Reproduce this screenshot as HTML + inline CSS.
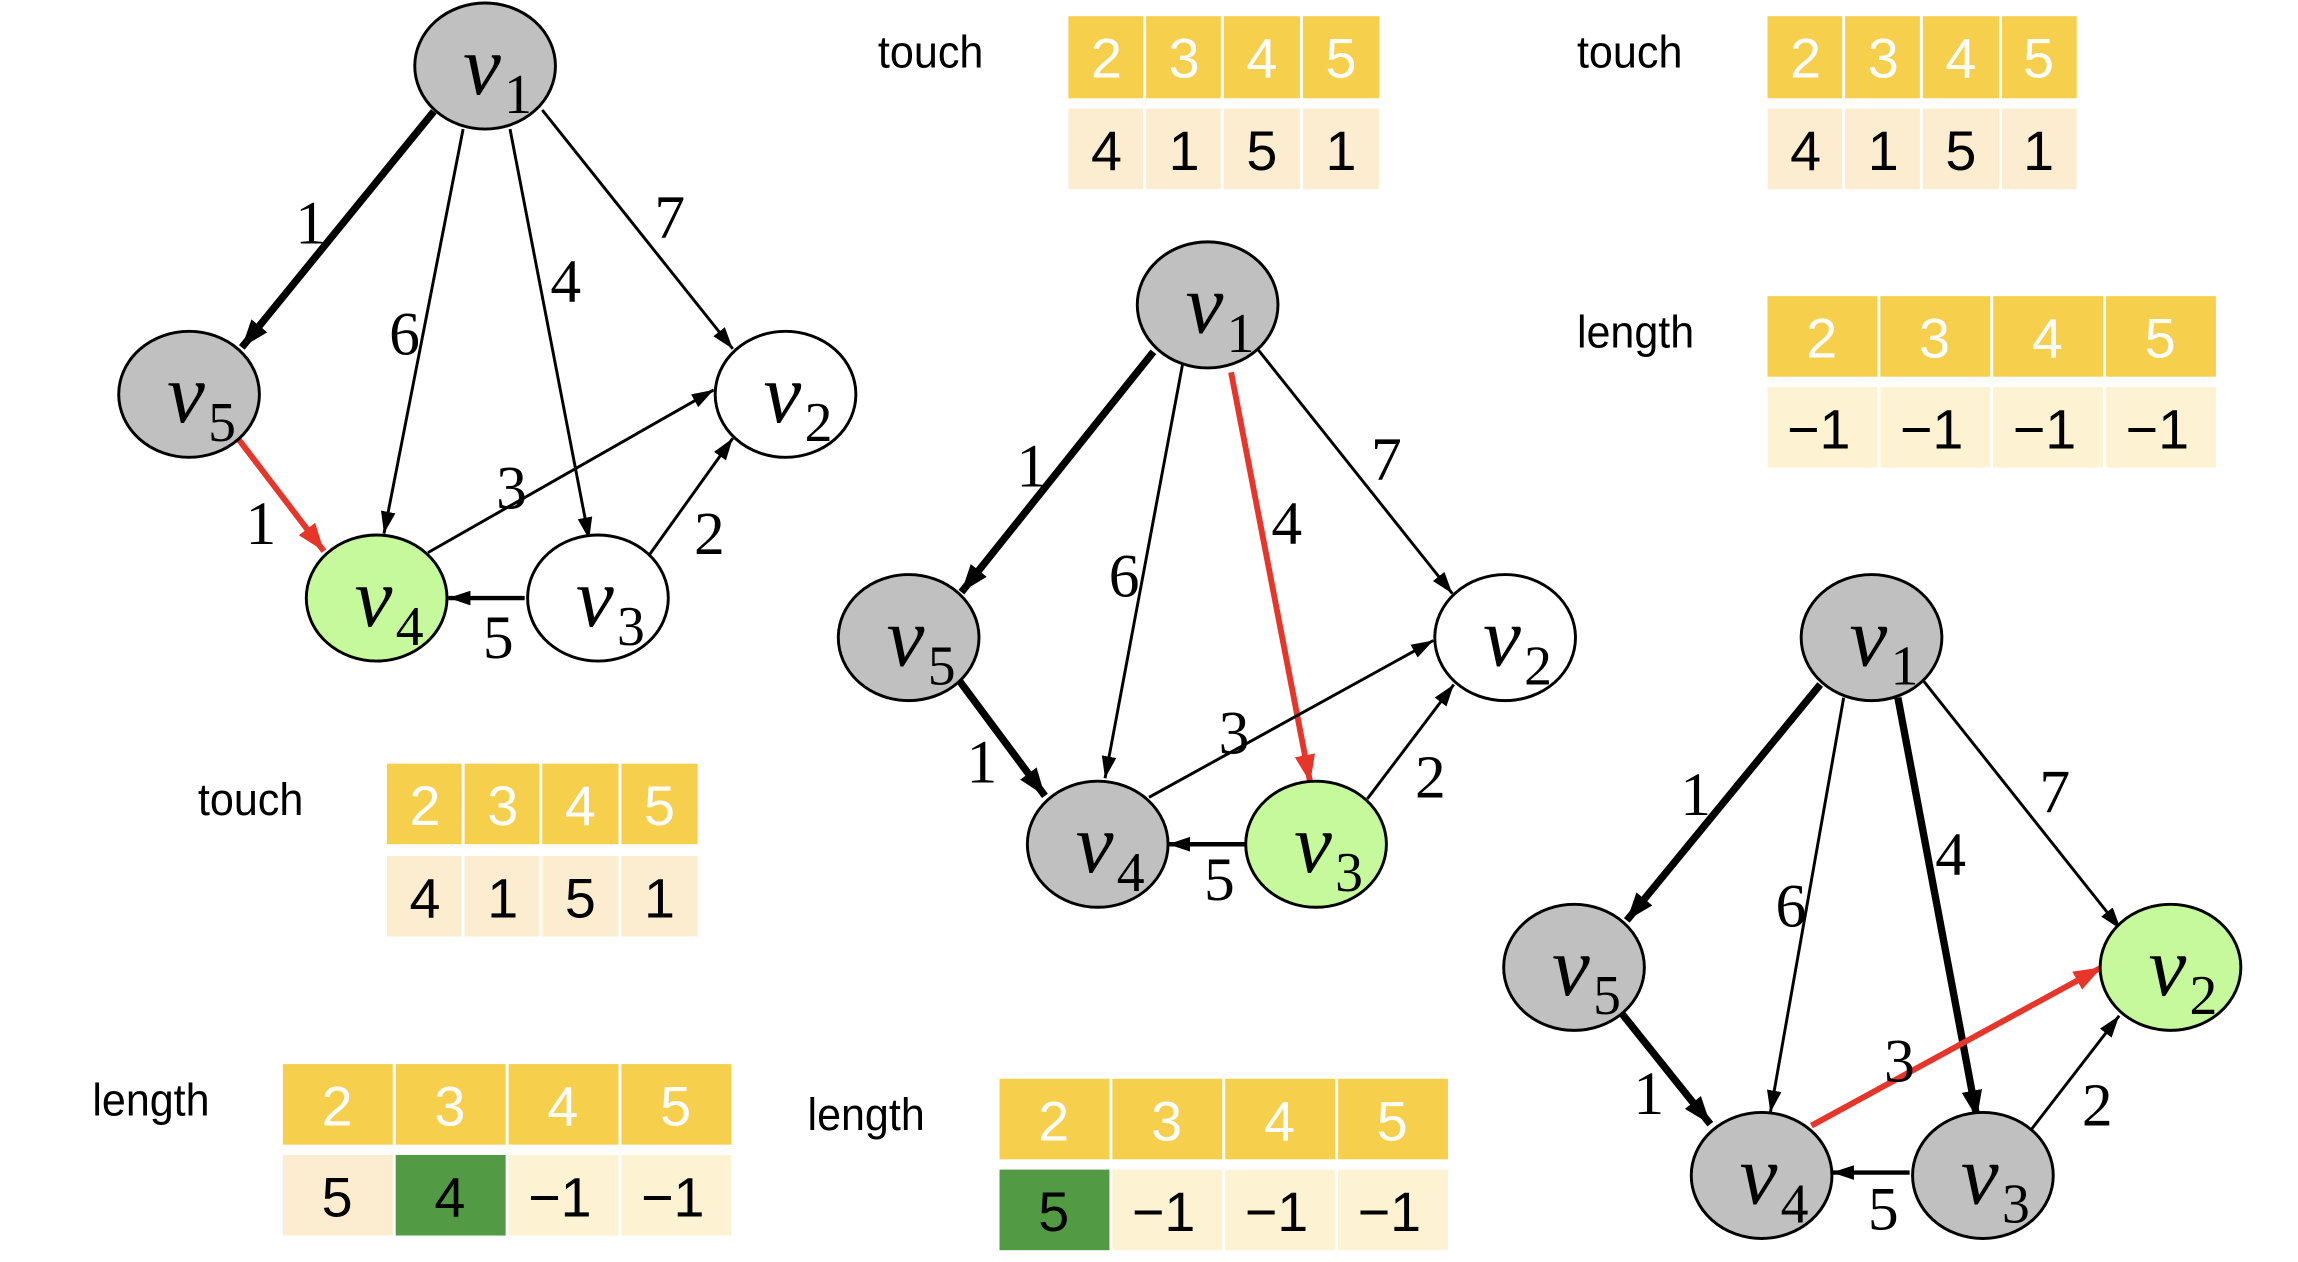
<!DOCTYPE html>
<html><head><meta charset="utf-8"><style>
html,body{margin:0;padding:0;background:#fff;}
svg{display:block;}
.nl{font-family:"Liberation Serif",serif;font-style:italic;font-size:58px;}
.ns{font-family:"Liberation Serif",serif;font-size:38px;}
.el{font-family:"Liberation Serif",serif;font-size:42px;}
.tl{font-family:"Liberation Sans",sans-serif;font-size:31px;}
.th{font-family:"Liberation Sans",sans-serif;font-size:38px;fill:#fff;}
.tv{font-family:"Liberation Sans",sans-serif;font-size:38px;fill:#000;}
</style></head><body>
<svg width="2298" height="1262" viewBox="0 0 1568 861" xmlns="http://www.w3.org/2000/svg">
<defs>
<marker id="a" markerUnits="userSpaceOnUse" markerWidth="16" markerHeight="12" refX="15" refY="5" orient="auto"><path d="M0,0 L15,5 L0,10 z" fill="#000"/></marker>
<marker id="ab" markerUnits="userSpaceOnUse" markerWidth="20" markerHeight="16" refX="19" refY="7" orient="auto"><path d="M0,0 L19,7 L0,14 z" fill="#000"/></marker>
<marker id="ar" markerUnits="userSpaceOnUse" markerWidth="20" markerHeight="16" refX="19" refY="7" orient="auto"><path d="M0,0 L19,7 L0,14 z" fill="#e8352a"/></marker>
</defs>

<!-- Graph 1 -->
<g>
<line x1="296" y1="76" x2="165" y2="237" stroke="#000" stroke-width="5" marker-end="url(#ab)"/>
<line x1="316" y1="88" x2="262" y2="364" stroke="#000" stroke-width="2" marker-end="url(#a)"/>
<line x1="348" y1="88" x2="402" y2="368" stroke="#000" stroke-width="2" marker-end="url(#a)"/>
<line x1="370" y1="75" x2="500" y2="238" stroke="#000" stroke-width="2" marker-end="url(#a)"/>
<line x1="163" y1="300" x2="221" y2="376" stroke="#e8352a" stroke-width="4" marker-end="url(#ar)"/>
<line x1="292" y1="377" x2="487" y2="266" stroke="#000" stroke-width="2" marker-end="url(#a)"/>
<line x1="442" y1="380" x2="500" y2="299" stroke="#000" stroke-width="2" marker-end="url(#a)"/>
<line x1="358" y1="408" x2="306" y2="408" stroke="#000" stroke-width="3" marker-end="url(#a)"/>
</g>
<g stroke="#000" stroke-width="2">
<ellipse cx="331" cy="45" rx="48" ry="43" fill="#c0c0c0"/>
<ellipse cx="129" cy="269" rx="48" ry="43" fill="#c0c0c0"/>
<ellipse cx="536" cy="269" rx="48" ry="43" fill="#fff"/>
<ellipse cx="257" cy="408" rx="48" ry="43" fill="#c5f99c"/>
<ellipse cx="408" cy="408" rx="48" ry="43" fill="#fff"/>
</g>
<g class="nl">
<text x="316" y="64">v</text><text x="114" y="288">v</text><text x="521" y="288">v</text><text x="242" y="427">v</text><text x="393" y="427">v</text>
</g>
<g class="ns">
<text x="344" y="77">1</text><text x="142" y="301">5</text><text x="549" y="301">2</text><text x="270" y="440">4</text><text x="421" y="440">3</text>
</g>
<g class="el" text-anchor="middle">
<text x="212" y="166">1</text><text x="276" y="242">6</text><text x="386" y="206">4</text><text x="457" y="162">7</text>
<text x="178" y="371">1</text><text x="349" y="347">3</text><text x="484" y="378">2</text><text x="340" y="449">5</text>
</g>

<!-- Graph 2 -->
<g>
<line x1="787" y1="240" x2="656" y2="404" stroke="#000" stroke-width="5" marker-end="url(#ab)"/>
<line x1="807" y1="248" x2="754" y2="531" stroke="#000" stroke-width="2" marker-end="url(#a)"/>
<line x1="840" y1="254" x2="894" y2="534" stroke="#e8352a" stroke-width="4" marker-end="url(#ar)"/>
<line x1="858" y1="238" x2="991" y2="405" stroke="#000" stroke-width="2" marker-end="url(#a)"/>
<line x1="655" y1="465" x2="713" y2="543" stroke="#000" stroke-width="5" marker-end="url(#ab)"/>
<line x1="784" y1="544" x2="978" y2="437" stroke="#000" stroke-width="2" marker-end="url(#a)"/>
<line x1="933" y1="545" x2="992" y2="467" stroke="#000" stroke-width="2" marker-end="url(#a)"/>
<line x1="850" y1="576" x2="797" y2="576" stroke="#000" stroke-width="3" marker-end="url(#a)"/>
</g>
<g stroke="#000" stroke-width="2">
<ellipse cx="824" cy="208" rx="48" ry="43" fill="#c0c0c0"/>
<ellipse cx="620" cy="435" rx="48" ry="43" fill="#c0c0c0"/>
<ellipse cx="1027" cy="435" rx="48" ry="43" fill="#fff"/>
<ellipse cx="749" cy="576" rx="48" ry="43" fill="#c0c0c0"/>
<ellipse cx="898" cy="576" rx="48" ry="43" fill="#c5f99c"/>
</g>
<g class="nl">
<text x="809" y="227">v</text><text x="605" y="454">v</text><text x="1012" y="454">v</text><text x="734" y="595">v</text><text x="883" y="595">v</text>
</g>
<g class="ns">
<text x="837" y="240">1</text><text x="633" y="467">5</text><text x="1040" y="467">2</text><text x="762" y="608">4</text><text x="911" y="608">3</text>
</g>
<g class="el" text-anchor="middle">
<text x="704" y="332">1</text><text x="767" y="407">6</text><text x="878" y="371">4</text><text x="946" y="327">7</text>
<text x="670" y="534">1</text><text x="842" y="514">3</text><text x="976" y="544">2</text><text x="832" y="614">5</text>
</g>

<!-- Graph 3 -->
<g>
<line x1="1242" y1="467" x2="1110" y2="628" stroke="#000" stroke-width="5" marker-end="url(#ab)"/>
<line x1="1258" y1="476" x2="1208" y2="759" stroke="#000" stroke-width="2" marker-end="url(#a)"/>
<line x1="1295" y1="476" x2="1349" y2="763" stroke="#000" stroke-width="5" marker-end="url(#ab)"/>
<line x1="1312" y1="464" x2="1447" y2="634" stroke="#000" stroke-width="2" marker-end="url(#a)"/>
<line x1="1107" y1="692" x2="1167" y2="767" stroke="#000" stroke-width="5" marker-end="url(#ab)"/>
<line x1="1236" y1="768" x2="1434" y2="660" stroke="#e8352a" stroke-width="4" marker-end="url(#ar)"/>
<line x1="1385" y1="772" x2="1446" y2="693" stroke="#000" stroke-width="2" marker-end="url(#a)"/>
<line x1="1303" y1="800" x2="1250" y2="800" stroke="#000" stroke-width="3" marker-end="url(#a)"/>
</g>
<g stroke="#000" stroke-width="2">
<ellipse cx="1277" cy="435" rx="48" ry="43" fill="#c0c0c0"/>
<ellipse cx="1074" cy="660" rx="48" ry="43" fill="#c0c0c0"/>
<ellipse cx="1481" cy="660" rx="48" ry="43" fill="#c5f99c"/>
<ellipse cx="1202" cy="802" rx="48" ry="43" fill="#c0c0c0"/>
<ellipse cx="1353" cy="802" rx="48" ry="43" fill="#c0c0c0"/>
</g>
<g class="nl">
<text x="1262" y="454">v</text><text x="1059" y="679">v</text><text x="1466" y="679">v</text><text x="1187" y="821">v</text><text x="1338" y="821">v</text>
</g>
<g class="ns">
<text x="1290" y="467">1</text><text x="1087" y="692">5</text><text x="1494" y="692">2</text><text x="1215" y="834">4</text><text x="1366" y="834">3</text>
</g>
<g class="el" text-anchor="middle">
<text x="1157" y="556">1</text><text x="1222" y="632">6</text><text x="1331" y="597">4</text><text x="1402" y="554">7</text>
<text x="1125" y="760">1</text><text x="1296" y="738">3</text><text x="1431" y="768">2</text><text x="1285" y="839">5</text>
</g>

<!-- Tables -->
<text class="tl" x="599" y="46" textLength="72" lengthAdjust="spacingAndGlyphs">touch</text>
<g fill="#f6d04d"><rect x="729" y="11" width="51" height="56"/><rect x="782" y="11" width="51" height="56"/><rect x="835" y="11" width="52" height="56"/><rect x="889" y="11" width="52" height="56"/></g>
<g fill="#fcedd1"><rect x="729" y="74" width="51" height="55"/><rect x="782" y="74" width="51" height="55"/><rect x="835" y="74" width="52" height="55"/><rect x="889" y="74" width="52" height="55"/></g>
<g class="th" text-anchor="middle"><text x="755" y="53">2</text><text x="808" y="53">3</text><text x="861" y="53">4</text><text x="915" y="53">5</text></g>
<g class="tv" text-anchor="middle"><text x="755" y="116">4</text><text x="808" y="116">1</text><text x="861" y="116">5</text><text x="915" y="116">1</text></g>

<text class="tl" x="1076" y="46" textLength="72" lengthAdjust="spacingAndGlyphs">touch</text>
<g fill="#f6d04d"><rect x="1206" y="11" width="51" height="56"/><rect x="1259" y="11" width="51" height="56"/><rect x="1312" y="11" width="52" height="56"/><rect x="1366" y="11" width="51" height="56"/></g>
<g fill="#fcedd1"><rect x="1206" y="74" width="51" height="55"/><rect x="1259" y="74" width="51" height="55"/><rect x="1312" y="74" width="52" height="55"/><rect x="1366" y="74" width="51" height="55"/></g>
<g class="th" text-anchor="middle"><text x="1232" y="53">2</text><text x="1285" y="53">3</text><text x="1338" y="53">4</text><text x="1391" y="53">5</text></g>
<g class="tv" text-anchor="middle"><text x="1232" y="116">4</text><text x="1285" y="116">1</text><text x="1338" y="116">5</text><text x="1391" y="116">1</text></g>

<text class="tl" x="1076" y="237" textLength="80" lengthAdjust="spacingAndGlyphs">length</text>
<g fill="#f6d04d"><rect x="1206" y="202" width="75" height="55"/><rect x="1283" y="202" width="75" height="55"/><rect x="1360" y="202" width="75" height="55"/><rect x="1437" y="202" width="75" height="55"/></g>
<g fill="#fdf3d3"><rect x="1206" y="264" width="75" height="55"/><rect x="1283" y="264" width="75" height="55"/><rect x="1360" y="264" width="75" height="55"/><rect x="1437" y="264" width="75" height="55"/></g>
<g class="th" text-anchor="middle"><text x="1243" y="244">2</text><text x="1320" y="244">3</text><text x="1397" y="244">4</text><text x="1474" y="244">5</text></g>
<g class="tv" text-anchor="middle"><text x="1241" y="306">−1</text><text x="1318" y="306">−1</text><text x="1395" y="306">−1</text><text x="1472" y="306">−1</text></g>

<text class="tl" x="135" y="556" textLength="72" lengthAdjust="spacingAndGlyphs">touch</text>
<g fill="#f6d04d"><rect x="264" y="521" width="51" height="55"/><rect x="317" y="521" width="51" height="55"/><rect x="370" y="521" width="52" height="55"/><rect x="424" y="521" width="52" height="55"/></g>
<g fill="#fcedd1"><rect x="264" y="584" width="51" height="55"/><rect x="317" y="584" width="51" height="55"/><rect x="370" y="584" width="52" height="55"/><rect x="424" y="584" width="52" height="55"/></g>
<g class="th" text-anchor="middle"><text x="290" y="563">2</text><text x="343" y="563">3</text><text x="396" y="563">4</text><text x="450" y="563">5</text></g>
<g class="tv" text-anchor="middle"><text x="290" y="626">4</text><text x="343" y="626">1</text><text x="396" y="626">5</text><text x="450" y="626">1</text></g>

<text class="tl" x="63" y="761" textLength="80" lengthAdjust="spacingAndGlyphs">length</text>
<g fill="#f6d04d"><rect x="193" y="726" width="75" height="55"/><rect x="270" y="726" width="75" height="55"/><rect x="347" y="726" width="75" height="55"/><rect x="424" y="726" width="75" height="55"/></g>
<rect x="193" y="788" width="75" height="55" fill="#fcedd1"/><rect x="270" y="788" width="75" height="55" fill="#529a44"/><rect x="347" y="788" width="75" height="55" fill="#fdf3d3"/><rect x="424" y="788" width="75" height="55" fill="#fdf3d3"/>
<g class="th" text-anchor="middle"><text x="230" y="768">2</text><text x="307" y="768">3</text><text x="384" y="768">4</text><text x="461" y="768">5</text></g>
<g class="tv" text-anchor="middle"><text x="230" y="830">5</text><text x="307" y="830">4</text><text x="382" y="830">−1</text><text x="459" y="830">−1</text></g>

<text class="tl" x="551" y="771" textLength="80" lengthAdjust="spacingAndGlyphs">length</text>
<g fill="#f6d04d"><rect x="682" y="736" width="75" height="55"/><rect x="759" y="736" width="75" height="55"/><rect x="836" y="736" width="75" height="55"/><rect x="913" y="736" width="75" height="55"/></g>
<rect x="682" y="798" width="75" height="55" fill="#529a44"/><rect x="759" y="798" width="75" height="55" fill="#fdf3d3"/><rect x="836" y="798" width="75" height="55" fill="#fdf3d3"/><rect x="913" y="798" width="75" height="55" fill="#fdf3d3"/>
<g class="th" text-anchor="middle"><text x="719" y="778">2</text><text x="796" y="778">3</text><text x="873" y="778">4</text><text x="950" y="778">5</text></g>
<g class="tv" text-anchor="middle"><text x="719" y="840">5</text><text x="794" y="840">−1</text><text x="871" y="840">−1</text><text x="948" y="840">−1</text></g>
</svg>
</body></html>
